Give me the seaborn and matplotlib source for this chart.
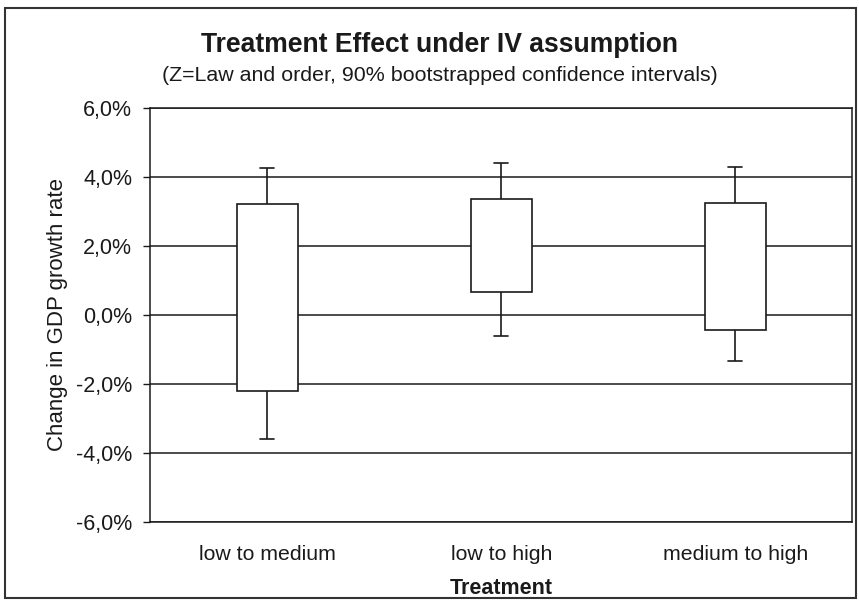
import matplotlib
matplotlib.use("Agg")
import matplotlib.pyplot as plt
import matplotlib.ticker as mticker
from matplotlib.patches import Rectangle
import seaborn as sns
import pandas as pd

# Datos (en %)
tratamientos = ["low to medium", "low to high", "medium to high"]
bigote_inferior = [-3.6, -0.6, -1.35]
caja_inferior = [-2.2, 0.65, -0.45]
caja_superior = [3.2, 3.35, 3.25]
bigote_superior = [4.25, 4.4, 4.3]

# 5 puntos por tratamiento: Q1 = caja inferior, Q3 = caja superior, extremos = bigotes
filas = []
for i, t in enumerate(tratamientos):
    for v in [bigote_inferior[i], caja_inferior[i], caja_superior[i],
              caja_superior[i], bigote_superior[i]]:
        filas.append({"Treatment": t, "valor": v})
datos = pd.DataFrame(filas)

sns.set_style("white")
plt.rcParams["font.family"] = ["Liberation Sans", "DejaVu Sans"]
NEGRO = "#1a1a1a"

figura = plt.figure(figsize=(8.59, 6.06), dpi=100)
figura.patch.set_facecolor("white")
area = figura.add_axes([0.175, 0.139, 0.817, 0.683])

sns.boxplot(data=datos, x="Treatment", y="valor", order=tratamientos,
            whis=(0, 100), width=0.26, color="white", linecolor=NEGRO,
            linewidth=1.2, showfliers=False, capwidths=0.06,
            medianprops={"linewidth": 0}, ax=area, zorder=3)

area.set_ylim(-6, 6)
area.set_xlim(-0.5, 2.5)
area.yaxis.set_major_locator(mticker.MultipleLocator(2))
area.yaxis.set_major_formatter(
    mticker.FuncFormatter(lambda v, p: f"{v:.1f}%".replace(".", ",")))
area.yaxis.grid(True, color=NEGRO, linewidth=1.1)
area.set_axisbelow(True)

area.xaxis.set_minor_locator(mticker.FixedLocator([0.5, 1.5, 2.5]))
area.tick_params(axis="x", which="major", length=0, labelsize=15.3, pad=17, colors=NEGRO)
area.tick_params(axis="x", which="minor", length=5, width=1, color=NEGRO, direction="out")
area.tick_params(axis="y", length=5, width=1, pad=8, labelsize=15.5, colors=NEGRO,
                 direction="out", left=True)

for s in area.spines.values():
    s.set_color(NEGRO)
    s.set_linewidth(1.1)

area.set_xlabel("Treatment", fontsize=15.5, fontweight="bold", color=NEGRO, labelpad=10)
area.set_ylabel("Change in GDP growth rate", fontsize=16, color=NEGRO, labelpad=6)

figura.text(0.512, 0.914, "Treatment Effect under IV assumption",
            ha="center", va="baseline", fontsize=19.1, fontweight="bold", color=NEGRO)
figura.text(0.512, 0.866, "(Z=Law and order, 90% bootstrapped confidence intervals)",
            ha="center", va="baseline", fontsize=15.4, color=NEGRO)

# Marco exterior del grafico
figura.patches.append(Rectangle((0.006, 0.013), 0.99, 0.973, transform=figura.transFigure,
                                fill=False, edgecolor="#333333", linewidth=1.5))

figura.savefig("out.png", dpi=100, facecolor=figura.get_facecolor())
plt.close(figura)
